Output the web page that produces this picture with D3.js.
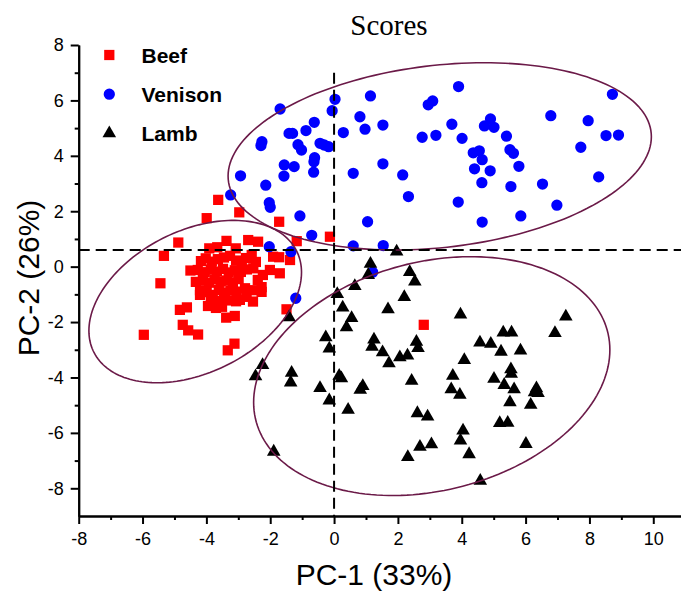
<!DOCTYPE html>
<html>
<head>
<meta charset="utf-8">
<script src="https://cdn.jsdelivr.net/npm/d3@7/dist/d3.min.js"></script>
<style>
  body { margin: 0; background: #fff; }
  svg { display: block; }
</style>
</head>
<body>
<svg id="chart" width="681" height="592"></svg>
<script>
// PCA scores: [PC-1, PC-2] for each sample
const beef = [
  [-3.63, 2.41], [-2.97, 1.96], [-3.99, 1.75], [-1.72, 1.62], [-4.88, 0.87], [-5.33, 0.39],
  [-5.44, -0.60], [-5.96, -2.46], [-4.50, -0.14], [-0.13, 1.08], [-1.17, 0.92], [-1.49, -1.54],
  [-4.74, -2.10], [-4.57, -2.30], [-4.26, -2.45], [-4.83, -1.56], [-4.61, -1.47], [-3.33, -3.02],
  [-3.12, -2.78], [-3.51, -1.45], [-3.38, -1.84], [-3.11, -1.78], [-1.91, 0.36], [-1.72, 0.34],
  [-1.38, 0.24], [-2.01, -0.12], [-1.70, -0.24], [-2.27, -0.74], [-2.79, -0.78], [-2.74, -1.09],
  [-2.95, -1.20], [-2.53, -0.06], [-2.38, 0.90], [-2.69, 0.96], [-3.37, 0.93], [-3.91, 0.66],
  [-3.66, 0.70], [-3.08, 0.66], [-3.26, 0.39], [2.81, -2.10], [-2.27, -0.91], [-2.54, -1.26],
  [-3.80, -1.02], [-4.20, -1.02],
  [-4.17, 0.20], [-4.02, 0.30], [-3.83, 0.18], [-3.64, 0.27], [-3.45, 0.33], [-3.07, 0.22], [-2.89, 0.16],
  [-4.27, -0.12], [-4.05, -0.20], [-3.86, -0.10], [-3.67, -0.18], [-3.48, -0.08], [-3.30, -0.21],
  [-3.11, -0.13], [-2.92, -0.19], [-2.73, -0.10],
  [-4.33, -0.55], [-4.11, -0.48], [-3.92, -0.58], [-3.74, -0.46], [-3.55, -0.54], [-3.36, -0.50],
  [-3.17, -0.57], [-2.99, -0.45],
  [-4.20, -0.85], [-3.99, -0.92], [-3.61, -0.84], [-3.42, -0.93], [-3.24, -0.86], [-3.05, -0.90],
  [-3.86, -1.18], [-3.64, -1.24], [-3.45, -1.16], [-3.26, -1.22], [-3.07, -1.25],
  [-3.70, -1.49], [-3.95, -1.42], [-2.48, -0.85], [-2.39, -0.48], [-2.23, -0.30], [-2.58, 0.42],
  [-2.76, 0.31], [-2.45, 0.17]
];

const venison = [
  [1.14, 6.16], [0.03, 6.04], [-0.06, 5.63], [-1.69, 5.69], [-0.62, 5.21], [0.81, 5.41],
  [0.97, 4.96], [1.53, 5.11], [0.29, 4.84], [-0.88, 4.91], [-1.41, 4.81], [-1.30, 4.81],
  [-2.26, 4.51], [-2.29, 4.37], [-1.13, 4.40], [-1.02, 4.21], [-0.44, 4.45], [-0.17, 4.33],
  [-0.31, 4.39], [-0.61, 3.93], [-0.63, 3.79], [-1.56, 3.67], [-1.25, 3.61], [-0.64, 3.41],
  [-1.57, 3.27], [-2.93, 3.28], [1.53, 3.71], [0.60, 3.37], [-2.14, 2.94], [-3.24, 2.59],
  [-2.03, 2.31], [-2.00, 2.14], [-1.07, 1.83], [1.05, 1.62], [-0.70, 1.13], [-2.03, 0.72],
  [0.60, 0.75], [1.54, 0.76], [-1.35, 0.54], [-1.20, -1.14], [1.21, -0.20],
  [3.90, 6.50], [3.09, 5.98], [2.95, 5.84], [8.72, 6.22], [6.79, 5.45], [7.96, 5.27],
  [3.69, 5.14], [4.90, 5.33], [4.71, 5.08], [5.01, 5.03], [2.76, 4.67], [3.19, 4.74],
  [4.01, 4.63], [5.40, 4.71], [8.52, 4.73], [8.91, 4.75], [7.73, 4.31], [4.36, 4.11],
  [4.55, 4.18], [4.64, 3.86], [5.51, 4.22], [5.62, 4.09], [4.40, 3.53], [4.89, 3.46],
  [5.79, 3.62], [2.15, 3.31], [4.63, 3.03], [5.54, 2.89], [6.53, 2.98], [8.29, 3.24],
  [2.33, 2.53], [3.89, 2.33], [6.98, 2.22], [4.64, 1.61], [5.85, 1.83]
];

const lamb = [
  [1.96, 0.54], [1.14, 0.10], [1.07, -0.30], [2.37, -0.20], [2.53, -0.54], [0.65, -0.70],
  [0.10, -0.99], [2.20, -1.10], [-1.41, -1.83], [0.27, -1.48], [1.69, -1.54], [0.55, -1.86],
  [0.39, -2.19], [-0.26, -2.55], [-0.15, -2.96], [1.25, -2.63], [1.19, -2.89], [1.52, -3.09],
  [1.72, -3.49], [2.06, -3.27], [2.30, -3.21], [-2.24, -3.55], [-2.46, -3.96], [-1.33, -3.83],
  [-1.36, -4.18], [0.16, -3.94], [0.23, -4.03], [-0.44, -4.38], [0.90, -4.31], [0.82, -4.45],
  [-0.15, -4.83], [2.43, -4.12], [0.44, -5.17], [2.61, -5.29], [2.93, -5.41], [-1.89, -6.68],
  [2.31, -6.87], [2.69, -6.50], [3.05, -6.41], [2.58, -2.71], [2.63, -2.94], [3.96, -1.73],
  [7.26, -1.80], [6.92, -2.40], [4.57, -2.74], [4.91, -2.79], [5.30, -2.38], [5.56, -2.38],
  [5.23, -3.07], [5.84, -3.03], [4.08, -3.37], [3.72, -3.94], [3.67, -4.43], [3.94, -4.63],
  [5.01, -4.05], [5.54, -3.71], [5.55, -3.87], [5.33, -4.27], [5.64, -4.43], [5.51, -4.90],
  [6.34, -4.39], [6.39, -4.56], [6.28, -4.54], [6.16, -4.99], [4.04, -5.92], [3.96, -6.28],
  [4.23, -6.77], [5.19, -5.65], [5.44, -5.64], [6.01, -6.40], [4.58, -7.73]
];

// Confidence ellipses: [centre x, centre y, half-width in x, half-height in y, correlation]
const ellipseBeef = [-4.35, -1.26, 3.33, 2.93, 0.36];
const ellipseVenison = [3.31, 3.98, 6.63, 3.38, 0.21];
const ellipseLamb = [3.06, -3.95, 5.58, 4.31, 0.22];

const groupNames = ["Beef", "Venison", "Lamb"];
const groupColors = ["#ff0000", "#0000ff", "#000000"];
const xTicks = [-8, -6, -4, -2, 0, 2, 4, 6, 8, 10];
const xMinorTicks = [-7, -5, -3, -1, 1, 3, 5, 7, 9];
const yTicks = [-8, -6, -4, -2, 0, 2, 4, 6, 8];
const yMinorTicks = [-7, -5, -3, -1, 1, 3, 5, 7];
const originLines = { x: 0, y: 0.6 };

const svg = d3.select("#chart");
const x = d3.scaleLinear().domain([-8, 11]).range([78.7, 685.2]);
const y = d3.scaleLinear().domain([-9, 8]).range([516, 45]);

const sansFont = "'Liberation Sans', Arial, sans-serif";

// Axes
const axisStyle = g => {
  g.select(".domain").attr("stroke", "#000").attr("stroke-width", 2);
  g.selectAll(".tick line").attr("stroke", "#000").attr("stroke-width", 2);
  g.selectAll(".tick text").attr("font-family", sansFont).attr("font-size", 18).attr("fill", "#000");
};

svg.append("g")
  .attr("transform", `translate(0,${y(-9)})`)
  .call(d3.axisBottom(x).tickValues(xMinorTicks).tickSize(4).tickSizeOuter(0).tickFormat(""))
  .call(axisStyle);
svg.append("g")
  .attr("transform", `translate(0,${y(-9)})`)
  .call(d3.axisBottom(x).tickValues(xTicks).tickSize(8).tickPadding(8).tickSizeOuter(0))
  .call(axisStyle)
  .call(g => g.selectAll(".tick text").text(d => d < 0 ? "-" + Math.abs(d) : d));

svg.append("g")
  .attr("transform", `translate(${x(-8)},0)`)
  .call(d3.axisLeft(y).tickValues(yMinorTicks).tickSize(4).tickSizeOuter(0).tickFormat(""))
  .call(axisStyle);
svg.append("g")
  .attr("transform", `translate(${x(-8)},0)`)
  .call(d3.axisLeft(y).tickValues(yTicks).tickSize(8).tickPadding(7).tickSizeOuter(0))
  .call(axisStyle)
  .call(g => g.selectAll(".tick text").text(d => d < 0 ? "-" + Math.abs(d) : d));

// Markers
const shapes = [d3.symbolSquare, d3.symbolCircle, d3.symbolTriangle];
const sizes = [105, 100, 80];
[beef, venison, lamb].forEach((pts, i) => {
  svg.append("g").selectAll("path")
    .data(pts)
    .join("path")
    .attr("d", d3.symbol(shapes[i], sizes[i]))
    .attr("transform", d => `translate(${x(d[0])},${y(d[1])})`)
    .attr("fill", groupColors[i]);
});

// Ellipses
const angles = d3.range(0, 361, 2).map(a => a * Math.PI / 180);
const ellipseLine = d3.line().x(d => x(d[0])).y(d => y(d[1])).curve(d3.curveLinearClosed);
[ellipseBeef, ellipseVenison, ellipseLamb].forEach(([cx, cy, sx, sy, rho]) => {
  const pts = angles.map(t => [
    cx + sx * Math.cos(t),
    cy + sy * (rho * Math.cos(t) + Math.sqrt(1 - rho * rho) * Math.sin(t))
  ]);
  svg.append("path")
    .attr("d", ellipseLine(pts))
    .attr("fill", "none")
    .attr("stroke", "#6b1a48")
    .attr("stroke-width", 1.6);
});

// Dashed origin lines
svg.append("line")
  .attr("x1", x(-8)).attr("x2", x(11))
  .attr("y1", y(originLines.y)).attr("y2", y(originLines.y))
  .attr("stroke", "#000").attr("stroke-width", 2).attr("stroke-dasharray", "11,6");
svg.append("line")
  .attr("x1", x(originLines.x)).attr("x2", x(originLines.x))
  .attr("y1", y(7)).attr("y2", y(-9))
  .attr("stroke", "#000").attr("stroke-width", 2).attr("stroke-dasharray", "11,6");

// Legend
const legend = svg.append("g");
groupNames.forEach((name, i) => {
  const ly = 55 + i * 39.2;
  legend.append("path")
    .attr("d", d3.symbol(shapes[i], sizes[i]))
    .attr("transform", `translate(109.3,${ly})`)
    .attr("fill", groupColors[i]);
  legend.append("text")
    .attr("x", 141.5).attr("y", ly + 7.7)
    .attr("font-family", sansFont).attr("font-weight", "bold").attr("font-size", 21)
    .text(name);
});

// Titles
svg.append("text")
  .attr("x", 389).attr("y", 35)
  .attr("text-anchor", "middle")
  .attr("font-family", "'Liberation Serif', 'Times New Roman', serif")
  .attr("font-size", 29)
  .text("Scores");

svg.append("text")
  .attr("x", 374).attr("y", 585)
  .attr("text-anchor", "middle")
  .attr("font-family", sansFont).attr("font-size", 30)
  .text("PC-1 (33%)");

svg.append("text")
  .attr("transform", "translate(38.5,278) rotate(-90)")
  .attr("text-anchor", "middle")
  .attr("font-family", sansFont).attr("font-size", 30)
  .text("PC-2 (26%)");
</script>
</body>
</html>
